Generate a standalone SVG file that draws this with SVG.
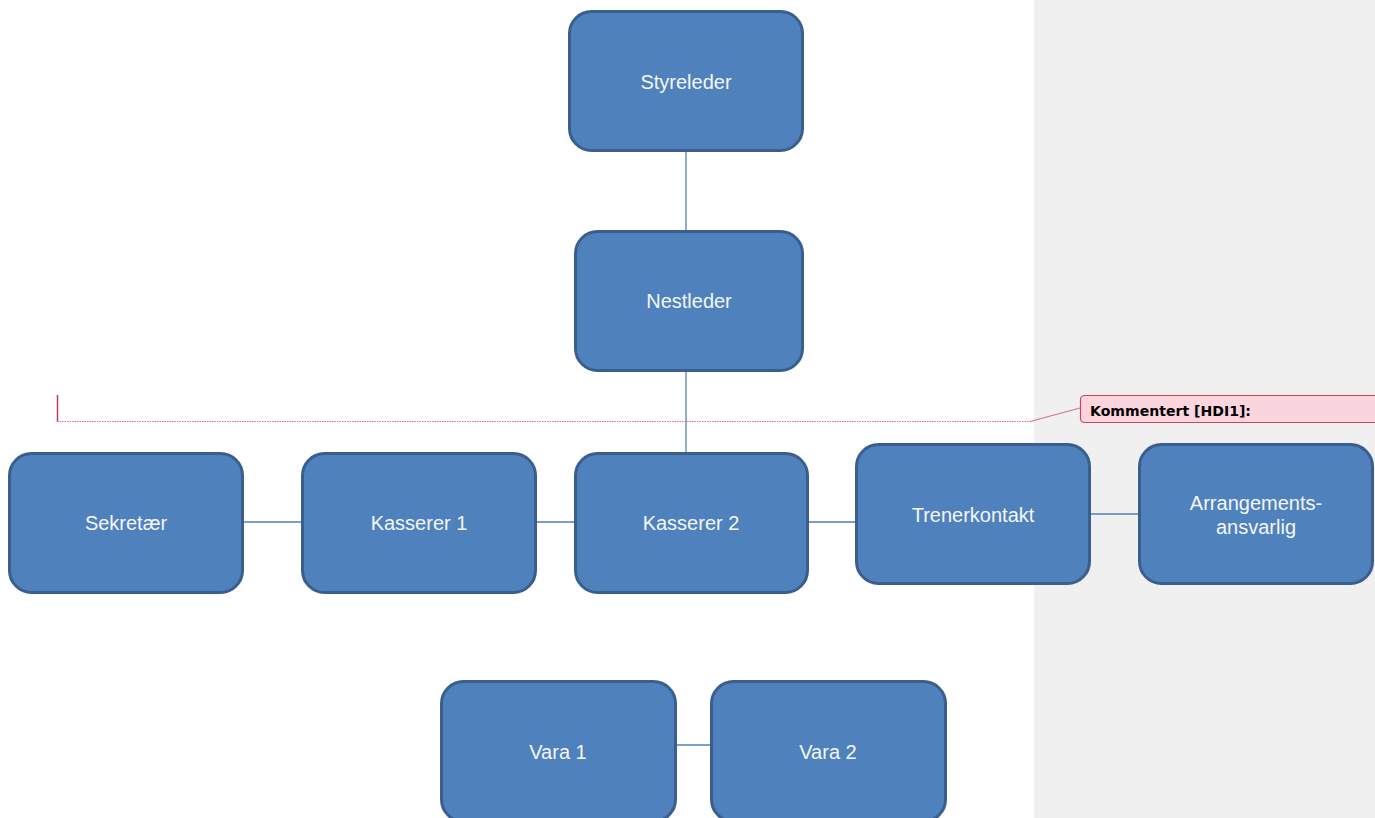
<svg xmlns="http://www.w3.org/2000/svg" width="1375" height="818" viewBox="0 0 1375 818">
<style>
.box{fill:#4f81bd;stroke:#3a5f8c;stroke-width:3}
.lbl{font-family:"Liberation Sans",Arial,sans-serif;font-size:20px;fill:#f4f7fb;text-anchor:middle}
.conn{stroke:#4f81bd;stroke-width:1.3;fill:none}
</style>
<rect x="0" y="0" width="1375" height="818" fill="#ffffff"/>
<rect x="1034" y="0" width="341" height="818" fill="#f0f0f0"/>
<g id="connectors">
<line class="conn" x1="686" y1="151" x2="686" y2="230"/>
<line class="conn" x1="686" y1="371" x2="686" y2="452"/>
<line class="conn" x1="243" y1="522" x2="302" y2="522"/>
<line class="conn" x1="536" y1="522" x2="574" y2="522"/>
<line class="conn" x1="808" y1="522" x2="855" y2="522"/>
<line class="conn" x1="1090" y1="514" x2="1139" y2="514"/>
<line class="conn" x1="676" y1="745" x2="711" y2="745"/>
</g>
<g id="comment">
<line x1="57.5" y1="395" x2="57.5" y2="422" stroke="#c8385a" stroke-width="1.5"/>
<line x1="57" y1="421.5" x2="1030" y2="421.5" stroke="#d8708a" stroke-width="1.2" stroke-dasharray="1.5,1"/>
<line x1="1030" y1="421.5" x2="1080" y2="408" stroke="#d8708a" stroke-width="1.2"/>
<rect x="1080.5" y="395.5" width="310" height="27" rx="4" fill="#fbd5dd" stroke="#c8475f" stroke-width="1.2"/>
<text x="1090" y="416" font-family="'DejaVu Sans',Verdana,sans-serif" font-size="13.5" font-weight="bold" fill="#000000" textLength="161" lengthAdjust="spacingAndGlyphs">Kommentert [HDI1]:</text>
</g>
<g id="styreleder"><rect class="box" x="569.5" y="11.5" width="233" height="139" rx="22"/><text class="lbl" x="686" y="89">Styreleder</text></g>
<g id="nestleder"><rect class="box" x="575.5" y="231.5" width="227" height="139" rx="22"/><text class="lbl" x="689" y="308">Nestleder</text></g>
<g id="sekretaer"><rect class="box" x="9.5" y="453.5" width="233" height="139" rx="22"/><text class="lbl" x="126" y="530">Sekretær</text></g>
<g id="kasserer1"><rect class="box" x="302.5" y="453.5" width="233" height="139" rx="22"/><text class="lbl" x="419" y="530">Kasserer 1</text></g>
<g id="kasserer2"><rect class="box" x="575.5" y="453.5" width="232" height="139" rx="22"/><text class="lbl" x="691" y="530">Kasserer 2</text></g>
<g id="trenerkontakt"><rect class="box" x="856.5" y="444.5" width="233" height="139" rx="22"/><text class="lbl" x="973" y="522">Trenerkontakt</text></g>
<g id="arrangement"><rect class="box" x="1139.5" y="444.5" width="233" height="139" rx="22"/><text class="lbl" x="1256" y="510">Arrangements-</text><text class="lbl" x="1256" y="534">ansvarlig</text></g>
<g id="vara1"><rect class="box" x="441.5" y="681.5" width="234" height="140" rx="22"/><text class="lbl" x="558" y="759">Vara 1</text></g>
<g id="vara2"><rect class="box" x="711.5" y="681.5" width="234" height="140" rx="22"/><text class="lbl" x="828" y="759">Vara 2</text></g>
</svg>
